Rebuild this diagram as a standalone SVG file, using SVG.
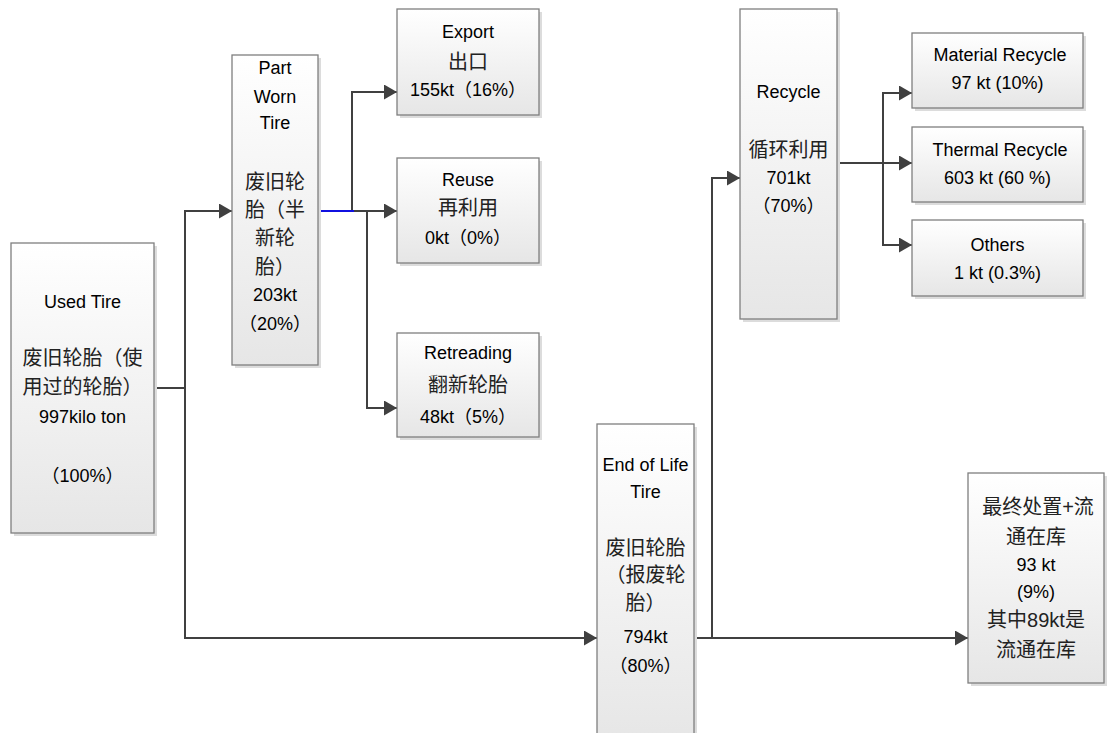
<svg xmlns="http://www.w3.org/2000/svg" width="1107" height="733" viewBox="0 0 1107 733">
  <defs>
    <linearGradient id="boxFill" x1="0" y1="0" x2="0" y2="1">
      <stop offset="0" stop-color="#ffffff"/>
      <stop offset="1" stop-color="#e6e6e6"/>
    </linearGradient>
    <marker id="arrow" markerUnits="userSpaceOnUse" markerWidth="13" markerHeight="15" refX="13" refY="7.5" orient="auto">
      <path d="M0,0 L13,7.5 L0,15 Z" fill="#404040"/>
    </marker>
    <style>
      .shadow { fill: #dcdcdc; }
      .box { fill: url(#boxFill); stroke: #7f7f7f; stroke-width: 1.3; }
      text { font-family: "Liberation Sans", "Noto Sans CJK SC", sans-serif; font-size: 18px; fill: #000; text-anchor: middle; }
      .cjk { font-size: 20px; fill: #222; }
      .link { fill: none; stroke: #404040; stroke-width: 2; }
      .arr { marker-end: url(#arrow); }
      .blue { fill: none; stroke: #1010e0; stroke-width: 2; }
    </style>
  </defs>

  <rect width="1107" height="733" fill="#ffffff"/>

  <!-- connectors -->
  <g id="connectors">
    <path class="link" d="M154,388 H185"/>
    <path class="link arr" d="M185,388 V211 H232"/>
    <path class="link arr" d="M185,388 V638 H597"/>
    <path class="link arr" d="M318,211 H397"/>
    <path class="link arr" d="M352,211 V92 H397"/>
    <path class="link arr" d="M367,211 V408 H397"/>
    <path class="blue" d="M318,211 H354"/>
    <path class="link arr" d="M694,638 H968"/>
    <path class="link arr" d="M712,638 V178 H740"/>
    <path class="link arr" d="M837,163 H912"/>
    <path class="link arr" d="M883,163 V93 H912"/>
    <path class="link arr" d="M883,163 V245 H912"/>
  </g>

  <g id="used-tire">
    <rect class="shadow" x="14" y="246" width="143" height="290"/>
    <rect class="box" x="11" y="243" width="143" height="290"/>
    <text x="82.5" y="308">Used Tire</text>
    <text class="cjk" x="82.5" y="365">废旧轮胎（使</text>
    <text class="cjk" x="82.5" y="394">用过的轮胎）</text>
    <text x="82.5" y="423">997kilo ton</text>
    <text x="82.5" y="482">（100%）</text>
  </g>

  <g id="part-worn-tire">
    <rect class="shadow" x="235" y="58" width="86" height="310"/>
    <rect class="box" x="232" y="55" width="86" height="310"/>
    <text x="275" y="74">Part</text>
    <text x="275" y="103">Worn</text>
    <text x="275" y="129">Tire</text>
    <text class="cjk" x="275" y="189">废旧轮</text>
    <text class="cjk" x="275" y="217">胎（半</text>
    <text class="cjk" x="275" y="245">新轮</text>
    <text class="cjk" x="275" y="274">胎）</text>
    <text x="275" y="301">203kt</text>
    <text x="275" y="330">（20%）</text>
  </g>

  <g id="export">
    <rect class="shadow" x="400" y="12" width="142" height="106"/>
    <rect class="box" x="397" y="9" width="142" height="106"/>
    <text x="468" y="38">Export</text>
    <text class="cjk" x="468" y="69">出口</text>
    <text x="468" y="96">155kt（16%）</text>
  </g>

  <g id="reuse">
    <rect class="shadow" x="400" y="161" width="142" height="105"/>
    <rect class="box" x="397" y="158" width="142" height="105"/>
    <text x="468" y="186">Reuse</text>
    <text class="cjk" x="468" y="215">再利用</text>
    <text x="468" y="244">0kt（0%）</text>
  </g>

  <g id="retreading">
    <rect class="shadow" x="400" y="336" width="142" height="104"/>
    <rect class="box" x="397" y="333" width="142" height="104"/>
    <text x="468" y="359">Retreading</text>
    <text class="cjk" x="468" y="392">翻新轮胎</text>
    <text x="468" y="423">48kt（5%）</text>
  </g>

  <g id="end-of-life-tire">
    <rect class="shadow" x="600" y="427" width="97" height="320"/>
    <rect class="box" x="597" y="424" width="97" height="320"/>
    <text x="645.5" y="471">End of Life</text>
    <text x="645.5" y="498">Tire</text>
    <text class="cjk" x="645.5" y="555">废旧轮胎</text>
    <text class="cjk" x="645.5" y="582">（报废轮</text>
    <text class="cjk" x="645.5" y="610">胎）</text>
    <text x="645.5" y="643">794kt</text>
    <text x="645.5" y="672">（80%）</text>
  </g>

  <g id="recycle">
    <rect class="shadow" x="743" y="12" width="97" height="310"/>
    <rect class="box" x="740" y="9" width="97" height="310"/>
    <text x="788.5" y="98">Recycle</text>
    <text class="cjk" x="788.5" y="157">循环利用</text>
    <text x="788.5" y="184">701kt</text>
    <text x="788.5" y="212">（70%）</text>
  </g>

  <g id="material-recycle">
    <rect class="shadow" x="915" y="36" width="171" height="75"/>
    <rect class="box" x="912" y="33" width="171" height="75"/>
    <text x="1000" y="61">Material Recycle</text>
    <text x="997.5" y="89">97 kt (10%)</text>
  </g>

  <g id="thermal-recycle">
    <rect class="shadow" x="915" y="130" width="171" height="75"/>
    <rect class="box" x="912" y="127" width="171" height="75"/>
    <text x="1000" y="156">Thermal Recycle</text>
    <text x="997.5" y="184">603 kt (60 %)</text>
  </g>

  <g id="others">
    <rect class="shadow" x="915" y="223" width="171" height="76"/>
    <rect class="box" x="912" y="220" width="171" height="76"/>
    <text x="997.5" y="251">Others</text>
    <text x="997.5" y="279">1 kt (0.3%)</text>
  </g>

  <g id="final-disposal">
    <rect class="shadow" x="971" y="476" width="136" height="210"/>
    <rect class="box" x="968" y="473" width="136" height="210"/>
    <text class="cjk" x="1038" y="514">最终处置+流</text>
    <text class="cjk" x="1036" y="544">通在库</text>
    <text x="1036" y="571">93 kt</text>
    <text x="1036" y="598">(9%)</text>
    <text class="cjk" x="1036" y="627">其中89kt是</text>
    <text class="cjk" x="1036" y="657">流通在库</text>
  </g>
</svg>
